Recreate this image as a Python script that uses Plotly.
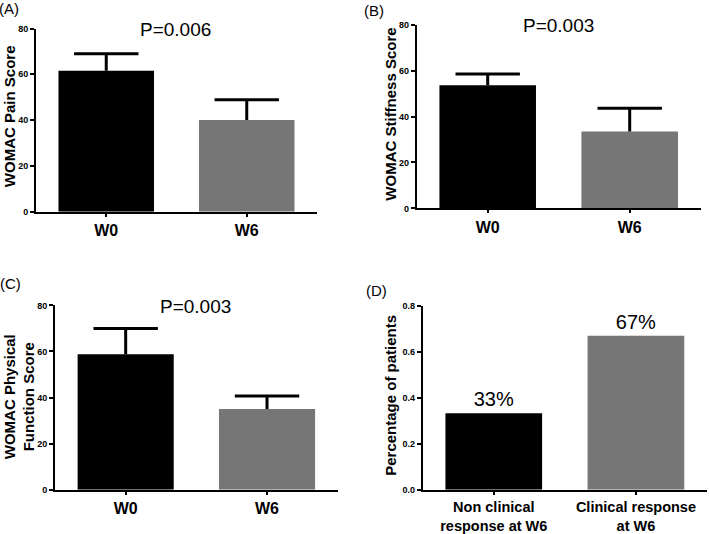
import plotly.graph_objects as go

W, H = 709, 534

# ---- data ----
week_labels = ["W0", "W6"]
pain_mean = [61.5, 40.0]
pain_err = [7.5, 8.9]
stiff_mean = [53.6, 33.5]
stiff_err = [4.9, 10.1]
func_mean = [58.8, 35.1]
func_err = [11.2, 5.6]
resp_labels = ["Non clinical<br>response at W6", "Clinical response<br>at W6"]
resp_pct = [0.333, 0.670]
resp_text = ["33%", "67%"]
p_values = ["P=0.006", "P=0.003", "P=0.003"]

BLACK = "#000000"
GREY = "#767676"
FONT = "Liberation Sans, Arial, sans-serif"

def px_x(px):
    return px / W

def px_y(py):
    return 1 - py / H

# panel domains in pixels: (x0, x1, ytop, ybottom)
dom = {
    1: (36, 317, 24, 211),
    2: (416.7, 700.7, 20, 207.7),
    3: (55, 337.7, 306.7, 495),
    4: (422.7, 707, 307.3, 495),
}

fig = go.Figure()

def add_bars(idx, cats, vals, errs=None, text=None):
    ax = "" if idx == 1 else str(idx)
    eb = None
    if errs is not None:
        eb = dict(type="data", symmetric=False, array=errs, arrayminus=[0] * len(errs),
                  color=BLACK, thickness=3, width=0, visible=True)
    fig.add_trace(go.Bar(
        x=cats, y=vals, width=0.68,
        marker=dict(color=[BLACK, GREY], line=dict(width=0)),
        error_y=eb,
        text=text, textposition="outside" if text else None,
        textfont=dict(family=FONT, size=20, color=BLACK),
        cliponaxis=False,
        xaxis="x" + ax, yaxis="y" + ax, showlegend=False, hoverinfo="skip",
    ))
    if errs is not None:
        tops = [v + e for v, e in zip(vals, errs)]
        fig.add_trace(go.Scatter(
            x=cats, y=tops, mode="markers",
            marker=dict(symbol="line-ew", size=46, color=BLACK,
                        line=dict(width=3, color=BLACK)),
            cliponaxis=False,
            xaxis="x" + ax, yaxis="y" + ax, showlegend=False, hoverinfo="skip",
        ))

add_bars(1, week_labels, pain_mean, pain_err)
add_bars(2, week_labels, stiff_mean, stiff_err)
add_bars(3, week_labels, func_mean, func_err)
add_bars(4, resp_labels, resp_pct, None, resp_text)

layout = dict(
    width=W, height=H, margin=dict(l=0, r=0, t=0, b=0),
    paper_bgcolor="white", plot_bgcolor="white",
    font=dict(family=FONT, color=BLACK),
    showlegend=False,
)

for i in range(1, 5):
    x0, x1, yt, yb = dom[i]
    ax = "" if i == 1 else str(i)
    layout["xaxis" + ax] = dict(
        domain=[px_x(x0), px_x(x1)], anchor="y" + ax, range=[-0.5, 1.5],
        showline=True, linewidth=2, linecolor=BLACK, showgrid=False, zeroline=False,
        ticks="outside", ticklen=3, tickwidth=1.5, tickcolor=BLACK,
        tickfont=dict(family=FONT, size=16 if i < 4 else 14.5, weight="bold", color=BLACK),
        fixedrange=True,
    )
    if i < 4:
        yr = [0, 80]
        tv = [0, 20, 40, 60, 80]
        fmt = None
    else:
        yr = [0, 0.8]
        tv = [0, 0.2, 0.4, 0.6, 0.8]
        fmt = ".1f"
    layout["yaxis" + ax] = dict(
        domain=[px_y(yb), px_y(yt)], anchor="x" + ax, range=yr,
        tickvals=tv, tickformat=fmt,
        showline=True, linewidth=2, linecolor=BLACK, showgrid=False, zeroline=False,
        ticks="outside", ticklen=4, tickwidth=2, tickcolor=BLACK,
        tickfont=dict(family=FONT, size=9, weight="bold", color=BLACK),
        fixedrange=True,
    )

fig.update_layout(**layout)

annotations = []
# p-values
for txt, (cx, cy) in zip(p_values, [(175.3, 25), (558.3, 21), (195.8, 308)]):
    annotations.append(dict(text=txt, x=px_x(cx), y=px_y(cy), xref="paper", yref="paper",
                            xanchor="center", yanchor="middle", showarrow=False,
                            font=dict(family=FONT, size=19, color=BLACK)))
# panel letters
for txt, (cx, cy) in zip(["(A)", "(B)", "(C)", "(D)"],
                         [(9, 4), (374, 6), (10, 284), (376.7, 292)]):
    annotations.append(dict(text=txt, x=px_x(cx), y=px_y(cy), xref="paper", yref="paper",
                            xanchor="center", yanchor="middle", showarrow=False,
                            font=dict(family=FONT, size=15, color=BLACK)))
# y-axis titles
for txt, (cx, cy) in zip(["WOMAC Pain Score", "WOMAC Stiffness Score",
                          "WOMAC Physical<br>Function Score", "Percentage of patients"],
                         [(9.5, 114), (391, 112), (19.5, 400), (391, 399)]):
    annotations.append(dict(text=txt, x=px_x(cx), y=px_y(cy), xref="paper", yref="paper",
                            xanchor="center", yanchor="middle", showarrow=False, textangle=-90,
                            font=dict(family=FONT, size=15, weight="bold", color=BLACK)))

fig.update_layout(annotations=annotations)

fig.write_html("out.html", config={"displayModeBar": False},
               post_script="document.body.style.margin='0';document.body.style.overflow='hidden';")
